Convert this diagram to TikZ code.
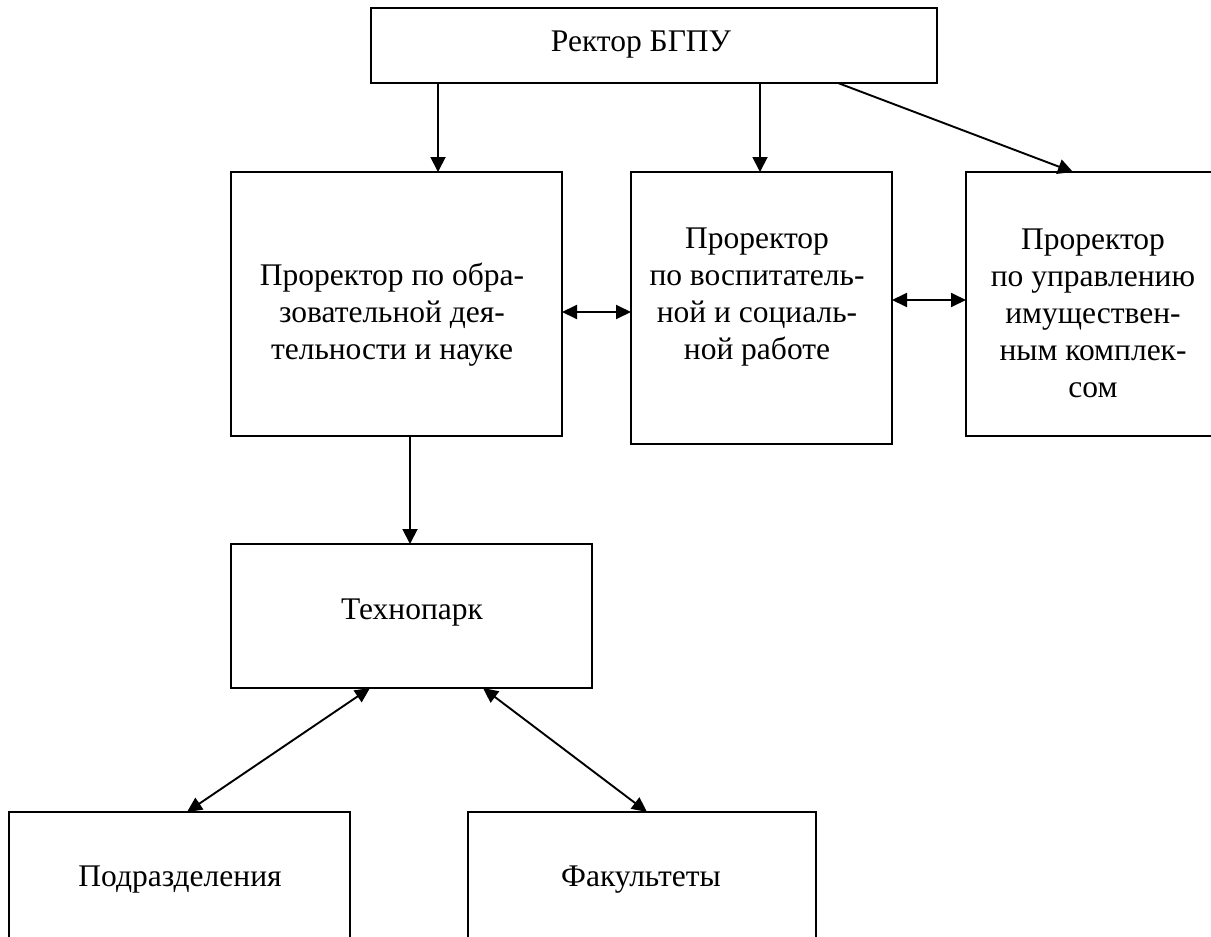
\documentclass[tikz,border=0pt]{standalone}
\usepackage{fontspec}
\setmainfont{Liberation Serif}
\usetikzlibrary{arrows.meta}
\tikzset{
  box/.style={draw=black, line width=1.4pt, inner sep=0pt, outer sep=0pt, anchor=north west, fill=none},
  lbl/.style={inner sep=0pt, align=center, font=\fontsize{31.5pt}{37pt}\selectfont},
  arr/.style={line width=1.9pt, -{Triangle[length=15pt,width=15pt]}},
  darr/.style={line width=1.9pt, {Triangle[length=15pt,width=14pt]}-{Triangle[length=15pt,width=14pt]}}
}
\begin{document}
\begin{tikzpicture}[x=1pt,y=-1pt]
\useasboundingbox (0,0) rectangle (1211,937);
% boxes
\node[box, minimum width=566pt, minimum height=75pt] (rector) at (371,8) {};
\node[box, minimum width=331pt, minimum height=264pt] (lp) at (231,172) {};
\node[box, minimum width=261pt, minimum height=272pt] (mp) at (631,172) {};
\node[box, minimum width=256pt, minimum height=264pt] (rp) at (966,172) {};
\node[box, minimum width=361pt, minimum height=144pt] (tp) at (231,544) {};
\node[box, minimum width=341pt, minimum height=140pt] (pd) at (9,812) {};
\node[box, minimum width=348pt, minimum height=140pt] (fk) at (468,812) {};
% texts
\node[lbl] (trector) at (641,45) {Ректор БГПУ};
\node[lbl] (tlp) at (392,315) {Проректор по обра-\\зовательной дея-\\тельности и науке};
\node[lbl] (tmp) at (757,297) {Проректор\\по воспитатель-\\ной и социаль-\\ной работе};
\node[lbl] (trp) at (1093,313) {Проректор\\по управлению\\имуществен-\\ным комплек-\\сом};
\node[lbl] (ttp) at (412,613) {Технопарк};
\node[lbl] (tpd) at (180,880) {Подразделения};
\node[lbl] (tfk) at (641,880) {Факультеты};
% connectors
\draw[arr] ([xshift=67pt]rector.south west) -- ([xshift=207pt]lp.north west);
\draw[arr] ([xshift=389pt]rector.south west) -- ([xshift=129pt]mp.north west);
\draw[arr] ([xshift=467pt]rector.south west) -- ([xshift=107pt]rp.north west);
\draw[darr] ([yshift=-140pt]lp.north east) -- ([yshift=-140pt]mp.north west);
\draw[darr] ([yshift=-128pt]mp.north east) -- ([yshift=-128pt]rp.north west);
\draw[arr] ([xshift=179pt]lp.south west) -- ([xshift=179pt]tp.north west);
\draw[darr] ([xshift=139pt]tp.south west) -- ([xshift=178pt]pd.north west);
\draw[darr] ([xshift=252pt]tp.south west) -- ([xshift=179pt]fk.north west);
\end{tikzpicture}
\end{document}
